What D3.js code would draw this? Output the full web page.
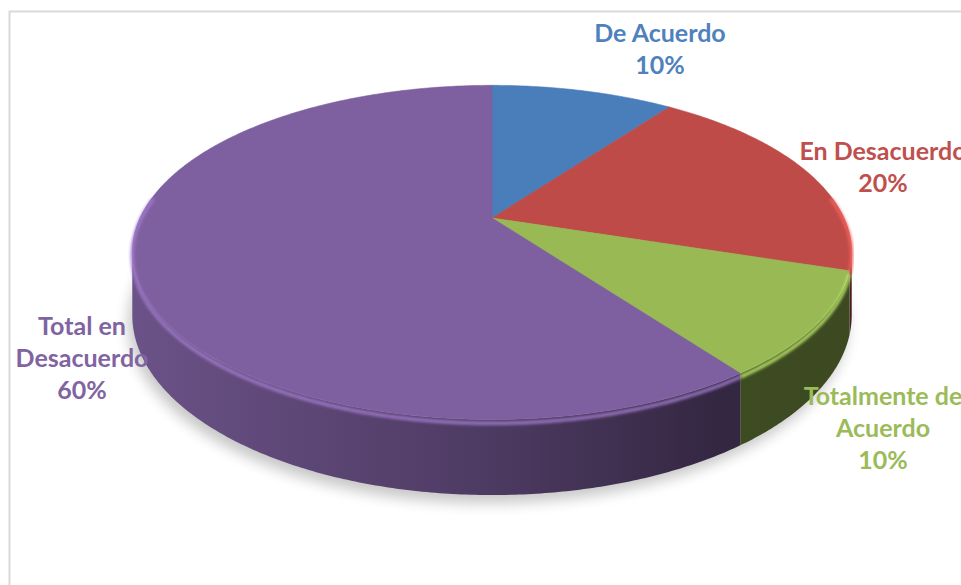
<!DOCTYPE html>
<html>
<head>
<meta charset="utf-8">
<script src="https://cdn.jsdelivr.net/npm/d3@7"></script>
<style>
  html, body { margin: 0; padding: 0; background: #fff; overflow: hidden; }
  svg { display: block; }
</style>
</head>
<body>
<svg id="grafico"></svg>
<script>
// [A] Datos ------------------------------------------------------------------
const categorias = ["De Acuerdo", "En Desacuerdo", "Totalmente de Acuerdo", "Total en Desacuerdo"];
const valores = [10, 20, 10, 60];
const porcentajes = ["10%", "20%", "10%", "60%"];
const lineasEtiqueta = [["De Acuerdo"], ["En Desacuerdo"], ["Totalmente de", "Acuerdo"], ["Total en", "Desacuerdo"]];

// [B] Estilo y disposición ---------------------------------------------------
const width = 961;
const height = 585;
const colores = ["#4a7ebb", "#be4b48", "#98b954", "#7e60a0"];
const coloresTexto = ["#4f81bd", "#c0504d", "#9bbb59", "#8064a2"];
// centro de la primera línea de cada etiqueta (x, línea base)
const posEtiqueta = [[660, 42], [883, 160], [883, 405], [82, 335]];
const altoLinea = 32;

const cx = 492, cy = 218;   // vértice proyectado
const RX = 352, RY = 160;   // radios del disco
const persp = 0.206;        // factor de perspectiva
const grosor = 60;          // altura del cilindro

const svg = d3.select("#grafico").attr("width", width).attr("height", height);
const defs = svg.append("defs");

// [C] Proyección del disco ---------------------------------------------------
function proj(a, r = 1, h = 0) {
  const v = r * Math.cos(a);
  const s = 1 / (1 + persp * v);
  return [cx + RX * r * Math.sin(a) * s, cy - RY * v * s + h * s];
}
function arco(a0, a1, h = 0) {
  const n = Math.max(2, Math.ceil(Math.abs(a1 - a0) / 0.01));
  return d3.range(n + 1).map(i => proj(a0 + (a1 - a0) * i / n, 1, h));
}
const silA = Math.acos(-persp);
const silB = 2 * Math.PI - silA;

const arcos = d3.pie().sort(null).value(d => d)(valores);
const linea = d3.line();

// [D] Marco ------------------------------------------------------------------
svg.append("rect")
  .attr("x", 9.5).attr("y", 11.5)
  .attr("width", width + 20).attr("height", height + 20)
  .attr("fill", "none").attr("stroke", "#d9d9d9").attr("stroke-width", 2);

// [E] Sombra -----------------------------------------------------------------
defs.append("filter").attr("id", "sombra")
  .attr("x", "-20%").attr("y", "-20%").attr("width", "140%").attr("height", "140%")
  .append("feGaussianBlur").attr("stdDeviation", 7);
svg.append("path")
  .attr("d", linea(arco(0, 2 * Math.PI, grosor)) + "Z")
  .attr("transform", "translate(-4,8)")
  .attr("fill", "#000").attr("opacity", 0.22)
  .attr("filter", "url(#sombra)");

// [F] Caras laterales --------------------------------------------------------
const xs = [cx - RX * 1.03, cx - 12, cx + 228, cx + RX * 1.03];
const oscuro = [0.45, 1.35, 2.5, 2.6];
arcos.forEach((d, i) => {
  const a0 = Math.max(d.startAngle, silA), a1 = Math.min(d.endAngle, silB);
  if (a1 <= a0) return;
  const g = defs.append("linearGradient").attr("id", "lado" + i)
    .attr("gradientUnits", "userSpaceOnUse")
    .attr("x1", xs[0]).attr("x2", xs[3]).attr("y1", 0).attr("y2", 0);
  xs.forEach((x, j) => {
    g.append("stop").attr("offset", (x - xs[0]) / (xs[3] - xs[0]))
      .attr("stop-color", d3.color(colores[i]).darker(oscuro[j]));
  });
  const pts = arco(a0, a1).concat(arco(a1, a0, grosor));
  svg.append("path").attr("d", linea(pts) + "Z").attr("fill", `url(#lado${i})`);
});

// [G] Caras superiores -------------------------------------------------------
const centro = proj(0, 0);
arcos.forEach((d, i) => {
  const pts = [centro].concat(arco(d.startAngle, d.endAngle));
  svg.append("path").attr("d", linea(pts) + "Z")
    .attr("fill", colores[i])
    .attr("stroke", colores[i]).attr("stroke-width", 0.6);
});

// [H] Bisel en el borde frontal ----------------------------------------------
defs.append("filter").attr("id", "suave")
  .append("feGaussianBlur").attr("stdDeviation", 1.5);
arcos.forEach((d, i) => {
  const a0 = Math.max(d.startAngle, silA - 0.35), a1 = Math.min(d.endAngle, silB + 0.35);
  if (a1 <= a0) return;
  svg.append("path").attr("d", linea(arco(a0, a1, 3)))
    .attr("fill", "none")
    .attr("stroke", d3.color(colores[i]).brighter(0.7))
    .attr("stroke-width", 3.5).attr("opacity", 0.9)
    .attr("filter", "url(#suave)");
});

// [I] Etiquetas --------------------------------------------------------------
arcos.forEach((d, i) => {
  const t = svg.append("text")
    .attr("text-anchor", "middle")
    .attr("font-family", "Lato, 'Open Sans', sans-serif")
    .attr("font-weight", 700).attr("font-size", 25)
    .attr("fill", coloresTexto[i]);
  lineasEtiqueta[i].concat([porcentajes[i]]).forEach((txt, j) => {
    t.append("tspan").attr("x", posEtiqueta[i][0])
      .attr("y", posEtiqueta[i][1] + j * altoLinea).text(txt);
  });
});
</script>
</body>
</html>
